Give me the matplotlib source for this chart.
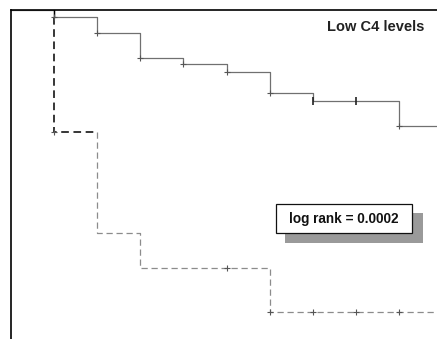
import matplotlib
matplotlib.use("Agg")
import matplotlib.pyplot as plt
from matplotlib.patches import Rectangle

# Kaplan-Meier style survival estimates at yearly intervals
time = [0, 1, 2, 3, 4, 5, 6, 7, 8, 9, 10]
survival_low_c4 = [1.0, 0.98, 0.94, 0.875, 0.86, 0.84, 0.785, 0.765, 0.765, 0.70, 0.70]
survival_other = [1.0, 0.685, 0.425, 0.335, 0.335, 0.335, 0.22, 0.22, 0.22, 0.22, 0.22]

# censoring marks
censor_low_t = [1, 2, 3, 4, 5, 6, 9]
censor_low_s = [0.98, 0.94, 0.875, 0.86, 0.84, 0.785, 0.70]
censor_low_bar_t = [7, 8]
censor_low_bar_s = [0.765, 0.765]
censor_other_t = [1, 5, 6, 7, 8, 9]
censor_other_s = [0.685, 0.335, 0.22, 0.22, 0.22, 0.22]

title_text = "Low C4 levels"
stat_text = "log rank = 0.0002"

W, H = 437, 339
fig = plt.figure(figsize=(W / 100, H / 100), dpi=100)
fig.patch.set_facecolor("white")

left_px, top_px = 11, 9.5
ax = fig.add_axes([left_px / W, 0, 1 - left_px / W, 1 - top_px / H])
px_per_unit_x = 43.1
px_per_unit_y = 388.0
ax.set_xlim(0, (W - left_px) / px_per_unit_x)
ax.set_ylim(1.0 - (H - top_px) / px_per_unit_y, 1.0)

for side in ("right", "bottom"):
    ax.spines[side].set_visible(False)
for side in ("left", "top"):
    ax.spines[side].set_linewidth(1.2)
    ax.spines[side].set_color("black")
    ax.spines[side].set_zorder(10)
ax.set_xticks([])
ax.set_yticks([])

DASH = (5.0, 3.0)

# solid curve (drop at t=1 drawn dark)
ax.step(time, survival_low_c4, where="post", color="#707070", lw=0.9, zorder=3)
ax.plot([time[1], time[1]], [survival_low_c4[0], survival_low_c4[1]],
        color="black", lw=1.0, zorder=4)

# dashed curve: first drop and plateau dark, remainder grey
ax.plot([time[1], time[1], time[2]],
        [survival_low_c4[1], survival_other[1], survival_other[1]],
        color="black", lw=1.1, dashes=DASH, zorder=4)
ax.step([time[2]] + time[2:], [survival_other[1]] + survival_other[2:],
        where="post", color="#8c8c8c", lw=0.9, dashes=DASH, zorder=3)

# censor ticks
ax.plot(censor_low_t, censor_low_s, ls="none", marker="+", ms=4, mew=0.8,
        color="#555555", zorder=5)
ax.plot(censor_low_bar_t, censor_low_bar_s, ls="none", marker="|", ms=6,
        mew=1.2, color="#222222", zorder=5)
ax.plot(censor_other_t, censor_other_s, ls="none", marker="+", ms=4,
        mew=0.8, color="#555555", zorder=5)

# title in upper right
fig.text(424 / W, 1 - 27 / H, title_text, ha="right", va="center",
         fontsize=10.5, fontweight="bold", family="Liberation Sans",
         color="#222222")

# boxed statistic with drop shadow
def px_rect(x0, y0, x1, y1, **kw):
    return Rectangle((x0 / W, 1 - y1 / H), (x1 - x0) / W, (y1 - y0) / H,
                     transform=fig.transFigure, **kw)

fig.patches.append(px_rect(285.3, 213.3, 423, 243.3, facecolor="#9a9a9a",
                           edgecolor="none", zorder=6))
fig.patches.append(px_rect(276.3, 204.3, 412.3, 233.3, facecolor="white",
                           edgecolor="#111111", lw=0.9, zorder=7))
fig.text(344 / W, 1 - 219 / H, stat_text, ha="center", va="center",
         fontsize=9.8, fontweight="bold", family="Liberation Sans",
         color="#111111", zorder=8)

fig.savefig("out.png", dpi=100, facecolor="white")
